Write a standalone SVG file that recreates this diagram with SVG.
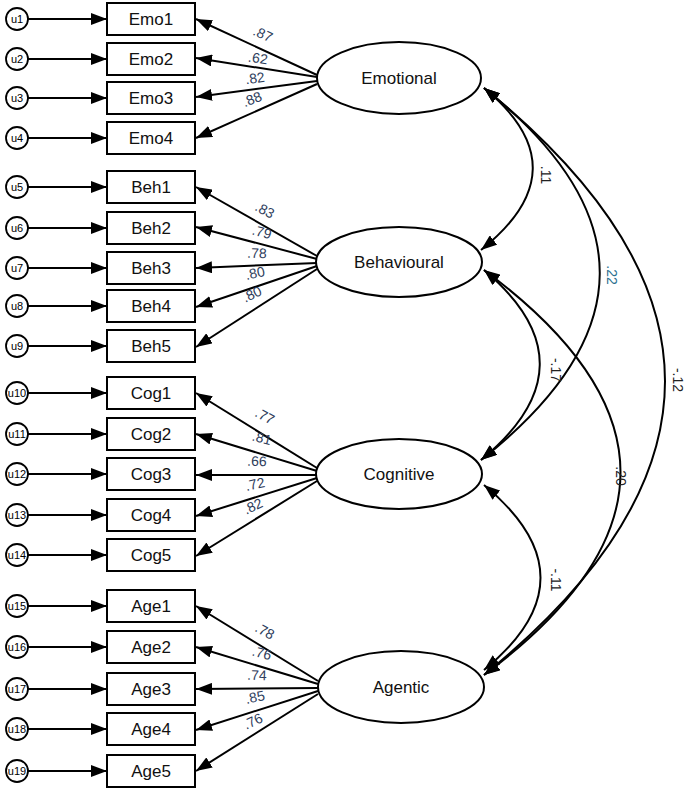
<svg xmlns="http://www.w3.org/2000/svg" width="685" height="792" viewBox="0 0 685 792">
<style>
.u{fill:#fff;stroke:#000;stroke-width:1.8}
.ut{font:11px "Liberation Sans",sans-serif;text-anchor:middle;dominant-baseline:central}
.b{fill:#fff;stroke:#000;stroke-width:2}
.bt{font:17px "Liberation Sans",sans-serif;text-anchor:middle;dominant-baseline:central;fill:#111}
.e{fill:#fff;stroke:#000;stroke-width:2}
.l{stroke:#000;stroke-width:2;fill:none}
.lb{font:14px "Liberation Sans",sans-serif;fill:#2e3d5c;text-anchor:middle;dominant-baseline:central}
</style>
<defs>
<marker id="a" viewBox="0 0 16 12" refX="16" refY="6" markerWidth="16" markerHeight="12" markerUnits="userSpaceOnUse" orient="auto-start-reverse"><path d="M0,0 L16,6 L0,12 z" fill="#000"/></marker>
</defs>
<g id="connectors">
<g class="l" marker-end="url(#a)">
<path d="M28,19 H107"/><path d="M28,59 H107"/><path d="M28,98 H107"/><path d="M28,138 H107"/>
<path d="M28,187 H107"/><path d="M28,228 H107"/><path d="M28,268 H107"/><path d="M28,306 H107"/><path d="M28,346 H107"/>
<path d="M28,393 H107"/><path d="M28,434 H107"/><path d="M28,474 H107"/><path d="M28,515 H107"/><path d="M28,555 H107"/>
<path d="M28,606 H107"/><path d="M28,647 H107"/><path d="M28,689 H107"/><path d="M28,729 H107"/><path d="M28,771 H107"/>
<path d="M317,75 L196,19"/><path d="M317,77 L196,58"/><path d="M317,81 L196,97"/><path d="M317,84 L196,138"/>
<path d="M317,256 L196,187"/><path d="M317,259 L196,227"/><path d="M317,263 L196,268"/><path d="M317,266 L196,307"/><path d="M317,269 L196,347"/>
<path d="M317,468 L196,393"/><path d="M317,471 L196,434"/><path d="M317,475 L196,475"/><path d="M317,478 L196,516"/><path d="M317,481 L196,556"/>
<path d="M318,681 L196,606"/><path d="M318,684 L196,647"/><path d="M318,688 L196,689"/><path d="M318,691 L196,730"/><path d="M318,694 L196,771"/>
</g>
<g class="l" marker-start="url(#a)" marker-end="url(#a)">
<path d="M484,88 Q583,169 481,250"/>
<path d="M484,88 Q717,274 481,460"/>
<path d="M484,88 Q846,381 484,675"/>
<path d="M484,270 Q597,365 481,460"/>
<path d="M484,270 Q757,472 484,675"/>
<path d="M484,485 Q597,578 484,670"/>
</g>
<g class="lb">
<text transform="translate(263,34) rotate(25)">.87</text>
<text transform="translate(258,58) rotate(9)">.62</text>
<text transform="translate(255,78) rotate(-8)">.82</text>
<text transform="translate(252,99) rotate(-22)">.88</text>
<text transform="translate(265,210) rotate(28)">.83</text>
<text transform="translate(262,232) rotate(15)">.79</text>
<text transform="translate(257,253) rotate(2)">.78</text>
<text transform="translate(255,273) rotate(-12)">.80</text>
<text transform="translate(252,294) rotate(-25)">.80</text>
<text transform="translate(265,416) rotate(28)">.77</text>
<text transform="translate(262,438) rotate(15)">.81</text>
<text transform="translate(257,461) rotate(2)">.66</text>
<text transform="translate(255,484) rotate(-12)">.72</text>
<text transform="translate(253,506) rotate(-25)">.82</text>
<text transform="translate(265,631) rotate(28)">.78</text>
<text transform="translate(262,653) rotate(15)">.76</text>
<text transform="translate(257,675) rotate(2)">.74</text>
<text transform="translate(255,697) rotate(-12)">.85</text>
<text transform="translate(253,721) rotate(-25)">.76</text>
<text transform="translate(546,175) rotate(90)" fill="#222">.11</text>
<text transform="translate(612,275) rotate(90)" fill="#2a6f8f">.22</text>
<text transform="translate(678,380) rotate(90)" fill="#222">-.12</text>
<text transform="translate(556,370) rotate(90)" fill="#222">-.17</text>
<text transform="translate(621,476) rotate(90)" fill="#222">.20</text>
<text transform="translate(556,580) rotate(90)" fill="#222">-.11</text>
</g>
</g>
<g id="errors">
<g id="u1"><circle class="u" cx="17" cy="19" r="11"/><text class="ut" x="17" y="19">u1</text></g>
<g id="u2"><circle class="u" cx="17" cy="59" r="11"/><text class="ut" x="17" y="59">u2</text></g>
<g id="u3"><circle class="u" cx="17" cy="98" r="11"/><text class="ut" x="17" y="98">u3</text></g>
<g id="u4"><circle class="u" cx="17" cy="138" r="11"/><text class="ut" x="17" y="138">u4</text></g>
<g id="u5"><circle class="u" cx="17" cy="187" r="11"/><text class="ut" x="17" y="187">u5</text></g>
<g id="u6"><circle class="u" cx="17" cy="228" r="11"/><text class="ut" x="17" y="228">u6</text></g>
<g id="u7"><circle class="u" cx="17" cy="268" r="11"/><text class="ut" x="17" y="268">u7</text></g>
<g id="u8"><circle class="u" cx="17" cy="306" r="11"/><text class="ut" x="17" y="306">u8</text></g>
<g id="u9"><circle class="u" cx="17" cy="346" r="11"/><text class="ut" x="17" y="346">u9</text></g>
<g id="u10"><circle class="u" cx="17" cy="393" r="11"/><text class="ut" x="17" y="393" font-size="10">u10</text></g>
<g id="u11"><circle class="u" cx="17" cy="434" r="11"/><text class="ut" x="17" y="434" font-size="10">u11</text></g>
<g id="u12"><circle class="u" cx="17" cy="474" r="11"/><text class="ut" x="17" y="474" font-size="10">u12</text></g>
<g id="u13"><circle class="u" cx="17" cy="515" r="11"/><text class="ut" x="17" y="515" font-size="10">u13</text></g>
<g id="u14"><circle class="u" cx="17" cy="555" r="11"/><text class="ut" x="17" y="555" font-size="10">u14</text></g>
<g id="u15"><circle class="u" cx="17" cy="606" r="11"/><text class="ut" x="17" y="606" font-size="10">u15</text></g>
<g id="u16"><circle class="u" cx="17" cy="647" r="11"/><text class="ut" x="17" y="647" font-size="10">u16</text></g>
<g id="u17"><circle class="u" cx="17" cy="689" r="11"/><text class="ut" x="17" y="689" font-size="10">u17</text></g>
<g id="u18"><circle class="u" cx="17" cy="729" r="11"/><text class="ut" x="17" y="729" font-size="10">u18</text></g>
<g id="u19"><circle class="u" cx="17" cy="771" r="11"/><text class="ut" x="17" y="771" font-size="10">u19</text></g>
</g>
<g id="items">
<g id="Emo1"><rect class="b" x="107" y="3" width="88" height="32"/><text class="bt" x="151" y="19">Emo1</text></g>
<g id="Emo2"><rect class="b" x="107" y="43" width="88" height="32"/><text class="bt" x="151" y="59">Emo2</text></g>
<g id="Emo3"><rect class="b" x="107" y="82" width="88" height="32"/><text class="bt" x="151" y="98">Emo3</text></g>
<g id="Emo4"><rect class="b" x="107" y="122" width="88" height="32"/><text class="bt" x="151" y="138">Emo4</text></g>
<g id="Beh1"><rect class="b" x="107" y="171" width="88" height="32"/><text class="bt" x="151" y="187">Beh1</text></g>
<g id="Beh2"><rect class="b" x="107" y="212" width="88" height="32"/><text class="bt" x="151" y="228">Beh2</text></g>
<g id="Beh3"><rect class="b" x="107" y="252" width="88" height="32"/><text class="bt" x="151" y="268">Beh3</text></g>
<g id="Beh4"><rect class="b" x="107" y="290" width="88" height="32"/><text class="bt" x="151" y="306">Beh4</text></g>
<g id="Beh5"><rect class="b" x="107" y="330" width="88" height="32"/><text class="bt" x="151" y="346">Beh5</text></g>
<g id="Cog1"><rect class="b" x="107" y="377" width="88" height="32"/><text class="bt" x="151" y="393">Cog1</text></g>
<g id="Cog2"><rect class="b" x="107" y="418" width="88" height="32"/><text class="bt" x="151" y="434">Cog2</text></g>
<g id="Cog3"><rect class="b" x="107" y="458" width="88" height="32"/><text class="bt" x="151" y="474">Cog3</text></g>
<g id="Cog4"><rect class="b" x="107" y="499" width="88" height="32"/><text class="bt" x="151" y="515">Cog4</text></g>
<g id="Cog5"><rect class="b" x="107" y="539" width="88" height="32"/><text class="bt" x="151" y="555">Cog5</text></g>
<g id="Age1"><rect class="b" x="107" y="590" width="88" height="32"/><text class="bt" x="151" y="606">Age1</text></g>
<g id="Age2"><rect class="b" x="107" y="631" width="88" height="32"/><text class="bt" x="151" y="647">Age2</text></g>
<g id="Age3"><rect class="b" x="107" y="673" width="88" height="32"/><text class="bt" x="151" y="689">Age3</text></g>
<g id="Age4"><rect class="b" x="107" y="713" width="88" height="32"/><text class="bt" x="151" y="729">Age4</text></g>
<g id="Age5"><rect class="b" x="107" y="755" width="88" height="32"/><text class="bt" x="151" y="771">Age5</text></g>
</g>
<g id="factors">
<g id="Emotional"><ellipse class="e" cx="399" cy="78" rx="82" ry="36" stroke-width="1"/><text class="bt" x="399" y="78">Emotional</text></g>
<g id="Behavioural"><ellipse class="e" cx="399" cy="262" rx="83" ry="35"/><text class="bt" x="399" y="262">Behavioural</text></g>
<g id="Cognitive"><ellipse class="e" cx="399" cy="474" rx="83" ry="35"/><text class="bt" x="399" y="474">Cognitive</text></g>
<g id="Agentic"><ellipse class="e" cx="401" cy="687" rx="83" ry="36"/><text class="bt" x="401" y="687">Agentic</text></g>
</g>
</svg>
